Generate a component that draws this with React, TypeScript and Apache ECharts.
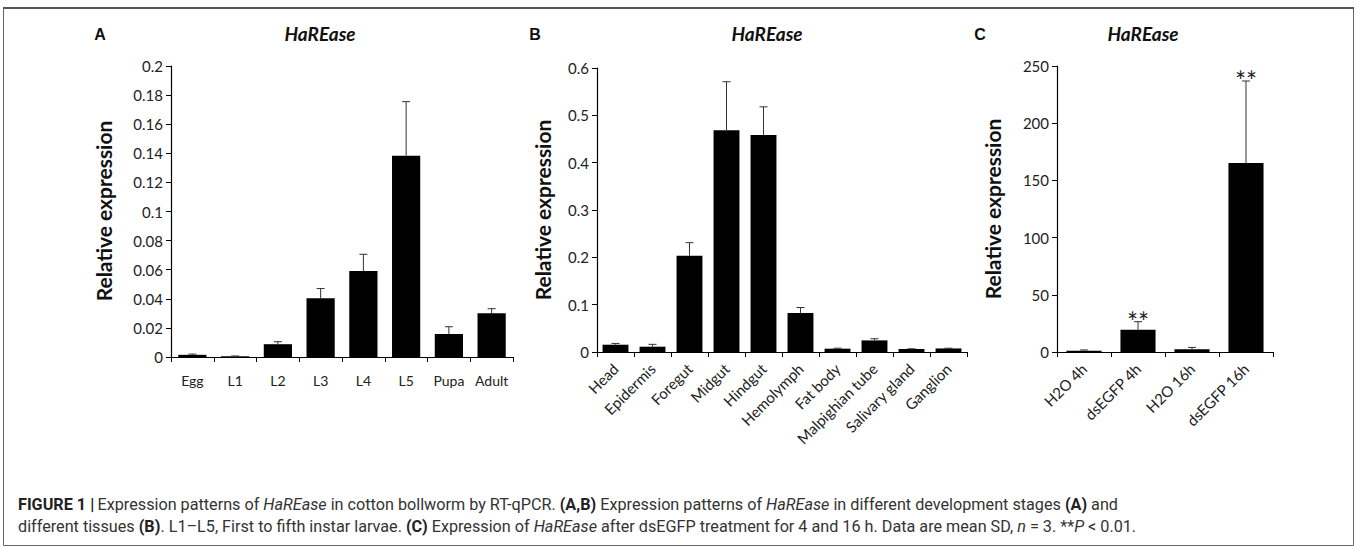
import React, { useEffect, useRef } from "react";
import * as echarts from "echarts";

const catsA = ["Egg", "L1", "L2", "L3", "L4", "L5", "Pupa", "Adult"];
const valsA = [0.0015, 0.0005, 0.0088, 0.0403, 0.0591, 0.1384, 0.0158, 0.03];
const errA = [0.0005, 0.0002, 0.0017, 0.0068, 0.0115, 0.0371, 0.005, 0.0032];

const catsB = ["Head", "Epidermis", "Foregut", "Midgut", "Hindgut", "Hemolymph", "Fat body", "Malpighian tube", "Salivary gland", "Ganglion"];
const valsB = [0.0154, 0.0112, 0.2036, 0.4685, 0.4587, 0.0824, 0.007, 0.0245, 0.0063, 0.0075];
const errB = [0.0027, 0.005, 0.0274, 0.1025, 0.0593, 0.0116, 0.001, 0.0035, 0.0005, 0.0005];

const catsC = ["H2O 4h", "dsEGFP 4h", "H2O 16h", "dsEGFP 16h"];
const valsC = [1.2, 19.5, 2.5, 165.2];
const errC = [0.6, 7, 1.5, 71.7];
const sigC = ["", "**", "", "**"];

const ticksA = { min: 0, max: 0.2, interval: 0.02 };
const ticksB = { min: 0, max: 0.6, interval: 0.1 };
const ticksC = { min: 0, max: 250, interval: 50 };

const panelTitle = "HaREase";
const yName = "Relative expression";

const FONT = "Lato, 'Open Sans', sans-serif";
const CAP_FONT = "Roboto, 'Liberation Sans', sans-serif";

function errSeries(idx: number, vals: number[], errs: number[], sig?: string[]) {
  return {
    type: "custom",
    xAxisIndex: idx,
    yAxisIndex: idx,
    z: 3,
    silent: true,
    data: vals.map((v, i) => [i, v, errs[i]]),
    renderItem: (params: any, api: any) => {
      const i = api.value(0);
      const v = api.value(1);
      const e = api.value(2);
      const base = api.coord([i, v]);
      const top = api.coord([i, v + e]);
      const hc = 4;
      const style = { stroke: "#333", lineWidth: 1 };
      const children: any[] = [
        { type: "line", shape: { x1: base[0], y1: base[1], x2: top[0], y2: top[1] }, style },
        { type: "line", shape: { x1: top[0] - hc, y1: top[1], x2: top[0] + hc, y2: top[1] }, style },
      ];
      const s = sig ? sig[params.dataIndex] : "";
      if (s) {
        children.push({
          type: "text",
          x: top[0],
          y: top[1] + 13,
          style: {
            text: s,
            fill: "#222",
            font: "26px " + FONT,
            textAlign: "center",
            textVerticalAlign: "bottom",
          },
        });
      }
      return { type: "group", children };
    },
  };
}

function barSeries(idx: number, vals: number[], gap: string) {
  return {
    type: "bar",
    xAxisIndex: idx,
    yAxisIndex: idx,
    data: vals,
    barCategoryGap: gap,
    itemStyle: { color: "#000" },
    z: 2,
  };
}

function xAxisCfg(idx: number, cats: string[], rotate: number) {
  return {
    type: "category",
    gridIndex: idx,
    data: cats,
    axisLine: { lineStyle: { color: "#000", width: 1.2 } },
    axisTick: { show: true, length: 5, lineStyle: { color: "#000" } },
    axisLabel: {
      color: "#222",
      fontFamily: FONT,
      fontSize: rotate ? 15 : 14,
      rotate,
      margin: rotate ? 14 : 16,
      interval: 0,
    },
  };
}

function yAxisCfg(idx: number, t: { min: number; max: number; interval: number }) {
  return {
    type: "value",
    gridIndex: idx,
    min: t.min,
    max: t.max,
    interval: t.interval,
    splitLine: { show: false },
    axisLine: { show: true, lineStyle: { color: "#000", width: 1.2 } },
    axisTick: { show: true, length: 5, lineStyle: { color: "#000" } },
    axisLabel: { color: "#222", fontFamily: FONT, fontSize: 15, margin: 8 },
  };
}

function txt(x: number, y: number, text: string, font: string, extra: any = {}) {
  return {
    type: "text",
    x,
    y,
    ...extra,
    style: { text, font, fill: "#111", textAlign: "center", textVerticalAlign: "middle", ...(extra.style || {}) },
  };
}

export default function App() {
  const ref = useRef<HTMLDivElement>(null);
  useEffect(() => {
    document.body.style.margin = "0";
    if (!ref.current) return;
    const chart = echarts.init(ref.current, null, { renderer: "svg" });
    const captionRich =
      "{b|FIGURE 1 |} {n|Expression patterns of }{i|HaREase}{n| in cotton bollworm by RT-qPCR. }{b|(A,B)}{n| Expression patterns of }{i|HaREase}{n| in different development stages }{b|(A)}{n| and}\n" +
      "{n|different tissues }{b|(B)}{n|. L1–L5, First to fifth instar larvae. }{b|(C)}{n| Expression of }{i|HaREase}{n| after dsEGFP treatment for 4 and 16 h. Data are mean SD, }{i|n}{n| = 3. **}{i|P}{n| < 0.01.}";
    chart.setOption({
      animation: false,
      backgroundColor: "#fff",
      grid: [
        { left: 171, top: 66, width: 342, height: 291 },
        { left: 597, top: 68, width: 370, height: 284 },
        { left: 1057, top: 66, width: 216, height: 286 },
      ],
      xAxis: [xAxisCfg(0, catsA, 0), xAxisCfg(1, catsB, 45), xAxisCfg(2, catsC, 45)],
      yAxis: [yAxisCfg(0, ticksA), yAxisCfg(1, ticksB), yAxisCfg(2, ticksC)],
      series: [
        barSeries(0, valsA, "34%"),
        errSeries(0, valsA, errA),
        barSeries(1, valsB, "30%"),
        errSeries(1, valsB, errB),
        barSeries(2, valsC, "35%"),
        errSeries(2, valsC, errC, sigC),
      ],
      graphic: [
        {
          type: "rect",
          shape: { x: 3.5, y: 8.5, width: 1350, height: 537 },
          style: { fill: "none", stroke: "#666", lineWidth: 1 },
          silent: true,
        },
        {
          type: "line",
          shape: { x1: 3, y1: 8, x2: 1354, y2: 8 },
          style: { stroke: "#555", lineWidth: 2 },
          silent: true,
        },
        txt(100, 34, "A", "bold 16px 'Liberation Sans', sans-serif"),
        txt(535, 34, "B", "bold 16px 'Liberation Sans', sans-serif"),
        txt(980, 34, "C", "bold 16px 'Liberation Sans', sans-serif"),
        txt(320, 33, panelTitle, "italic bold 19px " + FONT),
        txt(767, 33, panelTitle, "italic bold 19px " + FONT),
        txt(1143, 33, panelTitle, "italic bold 19px " + FONT),
        txt(103, 211, yName, "bold 21px " + FONT, { rotation: Math.PI / 2 }),
        txt(542, 210, yName, "bold 21px " + FONT, { rotation: Math.PI / 2 }),
        txt(992, 209, yName, "bold 21px " + FONT, { rotation: Math.PI / 2 }),
        {
          type: "text",
          left: 18,
          top: 493,
          style: {
            text: captionRich,
            lineHeight: 22,
            fill: "#333",
            rich: {
              b: { fontFamily: CAP_FONT, fontWeight: "bold", fontSize: 16.2, fill: "#222", lineHeight: 22 },
              n: { fontFamily: CAP_FONT, fontSize: 16.2, fill: "#333", lineHeight: 22 },
              i: { fontFamily: CAP_FONT, fontStyle: "italic", fontSize: 16.2, fill: "#333", lineHeight: 22 },
            },
          },
        },
      ],
    });
    return () => chart.dispose();
  }, []);
  return <div ref={ref} style={{ width: 1357, height: 548 }} />;
}
